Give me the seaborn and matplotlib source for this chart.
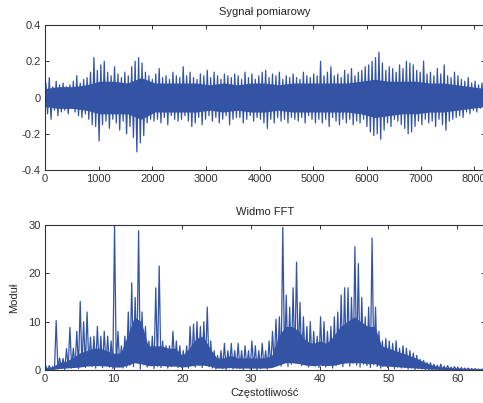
import numpy as np
import pandas as pd
import matplotlib
matplotlib.use("Agg")
import matplotlib.pyplot as plt
import seaborn as sns

# -------------------------------
# Dane
# -------------------------------
N_SAMPLES = 8192
LINE_COLOR = "#3353a5"

# sygnal: max/min w kolejnych blokach po 64 probki (128 blokow)
sig_upper = [
    0.08, 0.11, 0.06, 0.09, 0.07, 0.08, 0.06, 0.07,
    0.09, 0.12, 0.08, 0.10, 0.11, 0.14, 0.22, 0.15,
    0.18, 0.20, 0.14, 0.12, 0.17, 0.13, 0.11, 0.14,
    0.12, 0.17, 0.20, 0.22, 0.19, 0.14, 0.12, 0.10,
    0.13, 0.16, 0.11, 0.12, 0.10, 0.14, 0.12, 0.11,
    0.17, 0.12, 0.14, 0.11, 0.10, 0.13, 0.12, 0.15,
    0.11, 0.14, 0.12, 0.10, 0.13, 0.12, 0.11, 0.13,
    0.12, 0.10, 0.14, 0.11, 0.13, 0.10, 0.12, 0.14,
    0.15, 0.11, 0.13, 0.12, 0.14, 0.10, 0.12, 0.11,
    0.13, 0.11, 0.10, 0.14, 0.12, 0.11, 0.13, 0.12,
    0.20, 0.12, 0.14, 0.17, 0.12, 0.13, 0.11, 0.15,
    0.13, 0.16, 0.12, 0.14, 0.15, 0.17, 0.18, 0.20,
    0.22, 0.25, 0.19, 0.15, 0.17, 0.16, 0.14, 0.18,
    0.16, 0.20, 0.19, 0.18, 0.15, 0.14, 0.20, 0.13,
    0.14, 0.12, 0.16, 0.13, 0.18, 0.12, 0.11, 0.14,
    0.12, 0.10, 0.09, 0.11, 0.08, 0.09, 0.07, 0.08,
]
sig_lower = [
    -0.09, -0.12, -0.07, -0.10, -0.08, -0.07, -0.09, -0.06,
    -0.08, -0.10, -0.11, -0.09, -0.12, -0.15, -0.16, -0.24,
    -0.15, -0.13, -0.17, -0.12, -0.14, -0.18, -0.13, -0.20,
    -0.16, -0.22, -0.30, -0.25, -0.21, -0.14, -0.12, -0.13,
    -0.12, -0.14, -0.11, -0.15, -0.10, -0.12, -0.13, -0.12,
    -0.10, -0.13, -0.16, -0.14, -0.11, -0.15, -0.12, -0.10,
    -0.13, -0.11, -0.14, -0.12, -0.10, -0.15, -0.12, -0.11,
    -0.11, -0.14, -0.12, -0.10, -0.13, -0.11, -0.12, -0.14,
    -0.17, -0.12, -0.14, -0.11, -0.13, -0.12, -0.14, -0.11,
    -0.12, -0.13, -0.11, -0.14, -0.10, -0.12, -0.14, -0.12,
    -0.14, -0.12, -0.16, -0.11, -0.13, -0.15, -0.12, -0.14,
    -0.12, -0.15, -0.13, -0.14, -0.12, -0.16, -0.19, -0.21,
    -0.20, -0.23, -0.18, -0.14, -0.16, -0.12, -0.13, -0.15,
    -0.17, -0.20, -0.19, -0.16, -0.13, -0.15, -0.12, -0.14,
    -0.13, -0.16, -0.12, -0.15, -0.18, -0.13, -0.12, -0.11,
    -0.10, -0.11, -0.08, -0.09, -0.07, -0.08, -0.06, -0.07,
]
# gesty "rdzen" sygnalu co 256 probek
sig_core_up = [0.05, 0.06, 0.06, 0.07, 0.09, 0.09, 0.08, 0.11, 0.08,
               0.08, 0.08, 0.08, 0.07, 0.08, 0.07, 0.08, 0.08,
               0.07, 0.08, 0.08, 0.08, 0.08, 0.08, 0.09, 0.10,
               0.09, 0.09, 0.09, 0.08, 0.08, 0.07, 0.06, 0.05]
sig_core_lo = [-0.05, -0.06, -0.06, -0.07, -0.09, -0.09, -0.09, -0.12, -0.08,
               -0.08, -0.08, -0.08, -0.07, -0.08, -0.07, -0.08, -0.08,
               -0.07, -0.08, -0.08, -0.08, -0.08, -0.08, -0.09, -0.11,
               -0.10, -0.09, -0.09, -0.08, -0.08, -0.07, -0.06, -0.05]

# widmo: max/min w przedzialach 0.5 (128 przedzialow, 0..64)
fft_upper = [
    0.8, 0.9, 0.7, 10.2, 2.5, 2.4, 4.4, 8.8,
    4.5, 8.0, 14.2, 10.0, 12.0, 6.8, 7.0, 9.0,
    7.0, 8.0, 7.0, 6.0, 30.0, 8.0, 5.0, 7.0,
    12.0, 18.0, 15.0, 28.8, 12.0, 9.0, 6.0, 7.0,
    17.0, 21.5, 6.0, 5.0, 5.0, 8.0, 6.0, 5.0,
    4.0, 5.0, 9.0, 9.5, 10.0, 9.0, 10.0, 13.0,
    6.0, 4.0, 3.0, 4.0, 5.5, 4.0, 5.5, 4.0,
    5.5, 4.0, 5.0, 4.0, 6.0, 5.0, 4.0, 5.5,
    4.0, 6.0, 8.0, 10.5, 11.0, 29.5, 15.5, 13.0,
    17.0, 22.3, 14.0, 11.0, 9.0, 10.0, 8.0, 7.0,
    11.0, 10.0, 8.0, 9.0, 11.0, 12.0, 15.5, 17.0,
    17.0, 15.0, 25.5, 22.0, 15.0, 11.0, 13.0, 27.3,
    13.0, 8.0, 6.0, 6.5, 6.0, 5.5, 6.0, 4.5,
    5.0, 4.5, 4.0, 3.5, 3.0, 2.2, 2.0, 1.5,
    1.5, 1.2, 1.0, 1.2, 0.8, 0.9, 0.6, 0.7,
    0.5, 0.5, 0.4, 0.4, 0.3, 0.3, 0.2, 0.2,
]
fft_lower = [
    0.0, 0.1, 0.0, 0.2, 0.3, 0.1, 0.5, 0.4,
    0.6, 0.3, 0.8, 0.5, 1.0, 0.7, 0.4, 0.9,
    0.5, 1.1, 0.6, 0.3, 0.8, 1.2, 0.4, 0.6,
    1.0, 0.7, 1.5, 0.2, 1.1, 0.6, 0.9, 0.3,
    0.8, 0.5, 1.0, 0.4, 0.7, 1.2, 0.5, 0.6,
    0.9, 0.4, 1.3, 0.6, 1.0, 0.5, 1.1, 0.7,
    0.4, 0.2, 0.6, 0.3, 0.1, 0.5, 0.2, 0.4,
    0.3, 0.1, 0.5, 0.2, 0.4, 0.0, 0.3, 0.5,
    0.2, 0.6, 0.9, 1.3, 0.8, 1.6, 0.7, 1.2,
    1.5, 2.0, 0.9, 1.4, 0.6, 1.1, 0.8, 0.5,
    1.0, 0.6, 1.3, 0.4, 0.9, 1.2, 0.7, 1.5,
    0.8, 1.4, 1.0, 0.6, 1.2, 0.9, 0.5, 1.1,
    0.7, 0.4, 0.9, 0.5, 0.8, 0.3, 0.6, 0.4,
    0.5, 0.2, 0.4, 0.1, 0.3, 0.2, 0.1, 0.1,
    0.0, 0.1, 0.0, 0.05, 0.0, 0.05, 0.0, 0.0,
    0.0, 0.0, 0.0, 0.0, 0.0, 0.0, 0.0, 0.0,
]
# gesty "rdzen" widma co 1 jednostke (0..64)
fft_core_up = [0.5, 0.6, 1.5, 1.8, 2.5, 3.5, 4.0, 4.5, 4.5, 4.0, 3.5, 3.5, 7.0,
               11.0, 10.0, 5.0, 5.0, 5.0, 4.5, 4.5, 3.0, 4.5, 6.5, 7.0, 4.5, 2.5,
               2.5, 3.0, 2.5, 2.5, 2.5, 2.5, 2.5, 3.0, 7.0, 9.0, 9.0, 8.0, 6.0,
               5.5, 6.0, 5.5, 7.0, 9.0, 10.0, 11.0, 10.0, 9.0, 9.0, 5.0, 4.5, 4.0,
               3.5, 3.0, 2.5, 1.8, 1.2, 0.8, 0.6, 0.5, 0.4, 0.3, 0.25, 0.2, 0.2]
fft_core_lo = [0.05, 0.1, 0.3, 0.4, 0.5, 0.6, 0.8, 0.9, 0.9, 0.8, 0.6, 0.6, 1.0,
               1.5, 1.3, 0.9, 0.9, 0.9, 0.8, 0.8, 0.6, 0.8, 1.0, 1.0, 0.8, 0.4,
               0.4, 0.5, 0.4, 0.4, 0.4, 0.4, 0.4, 0.5, 1.0, 1.5, 1.5, 1.3, 1.0,
               0.9, 1.0, 0.9, 1.0, 1.3, 1.5, 1.5, 1.5, 1.3, 1.3, 0.8, 0.8, 0.7,
               0.6, 0.5, 0.4, 0.3, 0.2, 0.15, 0.1, 0.08, 0.05, 0.05, 0.05, 0.03, 0.03]

sig_yticks = [-0.4, -0.2, 0, 0.2, 0.4]
sig_yticklabels = ["-0.4", "-0.2", "0", "0.2", "0.4"]
sig_xticks = [0, 1000, 2000, 3000, 4000, 5000, 6000, 7000, 8000]
fft_yticks = [0, 10, 20, 30]
fft_xticks = [0, 10, 20, 30, 40, 50, 60]


def zigzag(upper, lower, x_max):
    # naprzemiennie max i min w kazdym bloku
    n = len(upper)
    w = x_max / n
    starts = np.arange(n) * w
    xs = np.column_stack([starts + w * 0.25, starts + w * 0.75]).ravel()
    ys = np.column_stack([upper, lower]).ravel()
    return pd.DataFrame({"x": xs, "y": ys})


sns.set_style("ticks")
plt.rcParams["font.family"] = ["Liberation Sans", "DejaVu Sans"]
plt.rcParams["axes.edgecolor"] = "#333333"
plt.rcParams["axes.linewidth"] = 0.8
plt.rcParams["text.color"] = "#222222"
plt.rcParams["xtick.color"] = "#333333"
plt.rcParams["ytick.color"] = "#333333"

fig = plt.figure(figsize=(4.83, 4.03), dpi=100)
ax1 = fig.add_axes([0.0932, 0.578, 0.91, 0.360])
ax2 = fig.add_axes([0.0932, 0.0819, 0.91, 0.360])

# -------------------------------
# Sygnal pomiarowy
# -------------------------------
core_x = np.linspace(0, N_SAMPLES, len(sig_core_up))
ax1.fill_between(core_x, sig_core_lo, sig_core_up, color=LINE_COLOR, lw=0)
sns.lineplot(data=zigzag(sig_upper, sig_lower, N_SAMPLES), x="x", y="y",
             estimator=None, sort=False, color=LINE_COLOR, linewidth=0.9, ax=ax1)
ax1.set_xlim(0, N_SAMPLES)
ax1.set_ylim(-0.4, 0.4)
ax1.set_yticks(sig_yticks)
ax1.set_yticklabels(sig_yticklabels)
ax1.set_xticks(sig_xticks)
ax1.set_xlabel("")
ax1.set_ylabel("")
ax1.set_title("Sygnał pomiarowy", fontsize=8, pad=7)

# -------------------------------
# Widmo FFT
# -------------------------------
core_f = np.linspace(0, 64, len(fft_core_up))
ax2.fill_between(core_f, fft_core_lo, fft_core_up, color=LINE_COLOR, lw=0)
sns.lineplot(data=zigzag(fft_upper, fft_lower, 64), x="x", y="y",
             estimator=None, sort=False, color=LINE_COLOR, linewidth=0.9, ax=ax2)
ax2.set_xlim(0, 64)
ax2.set_ylim(0, 30)
ax2.set_yticks(fft_yticks)
ax2.set_xticks(fft_xticks)
ax2.set_xlabel("Częstotliwość", fontsize=8, labelpad=3)
ax2.set_ylabel("Moduł", fontsize=8, labelpad=7)
ax2.set_title("Widmo FFT", fontsize=8, pad=7)

for ax in (ax1, ax2):
    ax.tick_params(direction="in", top=True, right=True, length=3, width=0.7,
                   labelsize=8, pad=3)
    for s in ax.spines.values():
        s.set_visible(True)

fig.savefig("out.png", dpi=100)
